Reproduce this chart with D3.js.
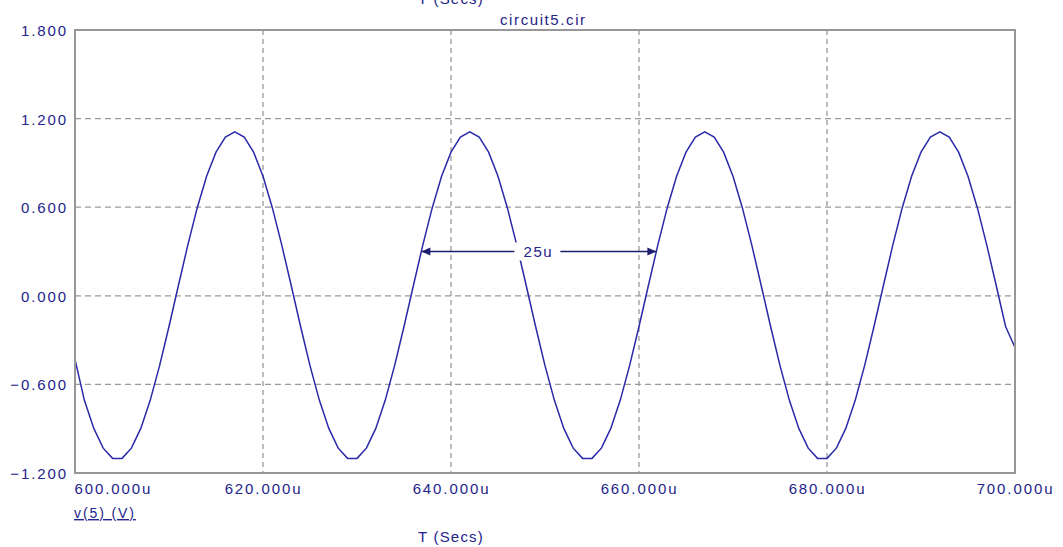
<!DOCTYPE html>
<html><head><meta charset="utf-8">
<script src="https://cdn.jsdelivr.net/npm/d3@7"></script>
<style>
html,body{margin:0;padding:0;background:#fff;}
svg{display:block;}
text{font-family:"Liberation Sans",Arial,sans-serif;}
</style></head>
<body>
<svg id="c" width="1063" height="547"></svg>
<script>
// ---- data ----
const times = [600,601,602,603,604,605,606,607,608,609,610,611,612,613,614,615,616,617,618,619,
620,621,622,623,624,625,626,627,628,629,630,631,632,633,634,635,636,637,638,639,
640,641,642,643,644,645,646,647,648,649,650,651,652,653,654,655,656,657,658,659,
660,661,662,663,664,665,666,667,668,669,670,671,672,673,674,675,676,677,678,679,
680,681,682,683,684,685,686,687,688,689,690,691,692,693,694,695,696,697,698,699,700];
const v5 = [-0.43,-0.708,-0.898,-1.032,-1.101,-1.101,-1.032,-0.898,-0.708,-0.473,-0.208,0.070,0.343,0.595,0.809,0.973,1.075,1.110,1.075,0.973,
0.809,0.595,0.343,0.070,-0.208,-0.473,-0.708,-0.898,-1.032,-1.101,-1.101,-1.032,-0.898,-0.708,-0.473,-0.208,0.070,0.343,0.595,0.809,
0.973,1.075,1.110,1.075,0.973,0.809,0.595,0.343,0.070,-0.208,-0.473,-0.708,-0.898,-1.032,-1.101,-1.101,-1.032,-0.898,-0.708,-0.473,
-0.208,0.070,0.343,0.595,0.809,0.973,1.075,1.110,1.075,0.973,0.809,0.595,0.343,0.070,-0.208,-0.473,-0.708,-0.898,-1.032,-1.101,
-1.101,-1.032,-0.898,-0.708,-0.473,-0.208,0.070,0.343,0.595,0.809,0.973,1.075,1.110,1.075,0.973,0.809,0.595,0.343,0.070,-0.208,-0.35];
const xTicks = [600,620,640,660,680,700];
const yTicks = [-1.2,-0.6,0,0.6,1.2,1.8];
const measureFrom = [636.85];
const measureTo = [661.85];
const measureLevel = [0.30];
const measureLabel = ["25u"];
const title = "circuit5.cir";
const xTitle = "T (Secs)";
const traceName = "v(5) (V)";

// ---- drawing ----
const W = 1063, H = 547;
const L = 75, R = 1015, T = 30, B = 473;
const navy = "#24248a", grid = "#9a9a9a", trace = "#2a2aa8";
const svg = d3.select("#c");
const x = d3.scaleLinear().domain([600,700]).range([L,R]);
const y = d3.scaleLinear().domain([-1.2,1.8]).range([B,T]);
const fs = "15px", ls = "1.9px";

svg.append("rect").attr("width",W).attr("height",H).attr("fill","#fff");

// grid
const g = svg.append("g");
g.selectAll("line.gx").data(xTicks.filter(d=>d>600&&d<700)).join("line")
  .attr("x1",d=>x(d)).attr("x2",d=>x(d)).attr("y1",T).attr("y2",B)
  .attr("stroke",grid).attr("stroke-width",1.3).attr("stroke-dasharray","5,4");
g.selectAll("line.gy").data(yTicks.filter(d=>d>-1.2&&d<1.8)).join("line")
  .attr("y1",d=>y(d)).attr("y2",d=>y(d)).attr("x1",L).attr("x2",R)
  .attr("stroke",grid).attr("stroke-width",1.3).attr("stroke-dasharray","6,4");

// trace
svg.append("defs").append("clipPath").attr("id","clip").append("rect")
  .attr("x",L).attr("y",T).attr("width",R-L).attr("height",B-T);
const pts = times.map((t,i)=>[t,v5[i]]);
svg.append("path").datum(pts).attr("clip-path","url(#clip)")
  .attr("fill","none").attr("stroke",trace).attr("stroke-width",1.5)
  .attr("d",d3.line().x(d=>x(d[0])).y(d=>y(d[1])));

// frame
svg.append("rect").attr("x",L).attr("y",T).attr("width",R-L).attr("height",B-T)
  .attr("fill","none").attr("stroke","#979797").attr("stroke-width",2);

// y axis
const ya = svg.append("g").attr("transform",`translate(${L},0)`)
  .call(d3.axisLeft(y).tickValues(yTicks).tickFormat(d3.format(".3f")).tickSize(0).tickPadding(7));
ya.select(".domain").remove();
ya.selectAll("text").attr("fill",navy).style("font-size",fs).style("letter-spacing",ls)
  .attr("dy","0.36em");

// x axis
const xa = svg.append("g").attr("transform",`translate(0,${B})`)
  .call(d3.axisBottom(x).tickValues(xTicks).tickFormat(d=>d3.format(".3f")(d)+"u").tickSize(0).tickPadding(10));
xa.select(".domain").remove();
xa.selectAll("text").attr("fill",navy).style("font-size",fs).style("letter-spacing",ls)
  .attr("text-anchor",d=>d===600?"start":"middle").attr("dx",d=>d===600?"-1":"0");

// trace name (underlined)
svg.append("text").attr("x",L-1).attr("y",518).attr("fill",navy).style("font-size","14px")
  .style("letter-spacing","1.9px").attr("text-decoration","underline").text(traceName);

// x title bottom and cut top
svg.append("text").attr("x",418).attr("y",542).attr("fill",navy).style("font-size",fs)
  .style("letter-spacing","1.2px").text(xTitle);
svg.append("text").attr("x",418).attr("y",4).attr("fill",navy).style("font-size",fs)
  .style("letter-spacing","1.2px").text(xTitle);
// title
svg.append("text").attr("x",500).attr("y",25).attr("fill",navy).style("font-size",fs)
  .style("letter-spacing","1.6px").text(title);

// measurement arrow
const mg = svg.append("g");
measureFrom.forEach((f,i)=>{
  const x1 = x(f), x2 = x(measureTo[i]), yy = y(measureLevel[i]);
  mg.append("line").attr("x1",x1).attr("x2",x2).attr("y1",yy).attr("y2",yy)
    .attr("stroke","#1e1e70").attr("stroke-width",1.6);
  mg.append("path").attr("d",`M${x1},${yy}L${x1+9},${yy-4}L${x1+9},${yy+4}Z`).attr("fill","#1e1e70");
  mg.append("path").attr("d",`M${x2},${yy}L${x2-9},${yy-4}L${x2-9},${yy+4}Z`).attr("fill","#1e1e70");
  const cx = (x1+x2)/2 - 0.5;
  mg.append("rect").attr("x",cx-24).attr("y",yy-9).attr("width",46).attr("height",18).attr("fill","#fff");
  mg.append("text").attr("x",cx).attr("y",yy).attr("dy","0.36em").attr("text-anchor","middle")
    .attr("fill",navy).style("font-size",fs).style("letter-spacing","1.5px").text(measureLabel[i]);
});
</script>
</body></html>
